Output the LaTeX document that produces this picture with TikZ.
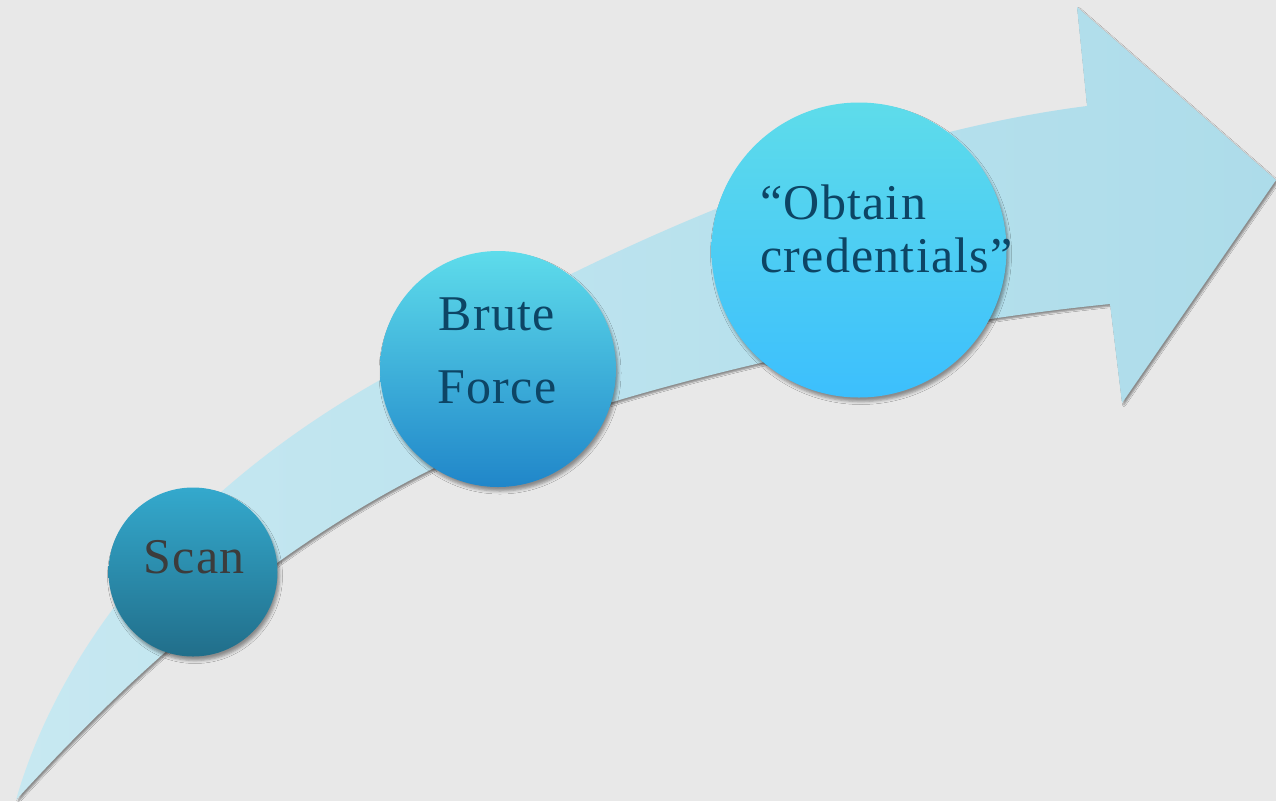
\documentclass[tikz,border=0pt]{standalone}
\usepackage{fontspec}
\setmainfont{Liberation Serif}[LetterSpace=2.5]
\usepackage{tikz}
\usetikzlibrary{shadows.blur}
\definecolor{bgGrey}{HTML}{E8E8E8}
\definecolor{arrowL}{HTML}{C7E8F1}
\definecolor{arrowR}{HTML}{ADDCEA}
\definecolor{scanTop}{HTML}{34A9CD}
\definecolor{scanBot}{HTML}{216E8A}
\definecolor{bruteTop}{HTML}{5EDCEB}
\definecolor{bruteBot}{HTML}{2086C9}
\definecolor{credTop}{HTML}{5EDCEA}
\definecolor{credBot}{HTML}{3CBFFD}
\definecolor{inkGrey}{HTML}{3C3C3C}
\definecolor{inkBlue}{HTML}{0D4565}

\begin{document}
\begin{tikzpicture}[x=1pt, y=-1pt,
  ball/.style={circle, inner sep=0pt, blur shadow={shadow xshift=2pt, shadow yshift=-4pt,
               shadow blur radius=3pt, shadow opacity=40}},
  txt/.style={inner sep=0pt, font={\fontsize{50}{73}\selectfont}},
  body/.style={left color=arrowL, right color=arrowR, blur shadow={shadow xshift=2pt,
               shadow yshift=-2pt, shadow blur radius=1.5pt, shadow opacity=40}}]
\fill[bgGrey] (0,0) rectangle (1276,801);
\useasboundingbox (0,0) rectangle (1276,801);
% the curved arrow
\path[body] (16,800) .. controls (50,680) and (150,510) .. (380,380)
  .. controls (540,280) and (820,140) .. (1087,106)
  -- (1077,7) -- (1276,180) -- (1122,403) -- (1110,304)
  .. controls (850,330) and (560,405) .. (430,470)
  .. controls (250,560) and (110,697) .. (16,800) -- cycle;
% steps
\node[ball, minimum size=169pt, top color=scanTop, bottom color=scanBot] (scan) at (193,572) {};
\node[ball, minimum size=236pt, top color=bruteTop, bottom color=bruteBot] (brute) at (498,369) {};
\node[ball, minimum size=295pt, top color=credTop, bottom color=credBot] (cred) at (859,250) {};
\node[txt, inkGrey, anchor=base] (scanlbl) at (194,573) {Scan};
\node[txt, inkBlue, align=center, anchor=north] (brutelbl) at (497,298) {Brute\\Force};
\node[txt, inkBlue, align=left, anchor=north west, font={\fontsize{50}{53}\selectfont}]
  (credlbl) at (760,185) {“Obtain\\credentials”};
\end{tikzpicture}
\end{document}
